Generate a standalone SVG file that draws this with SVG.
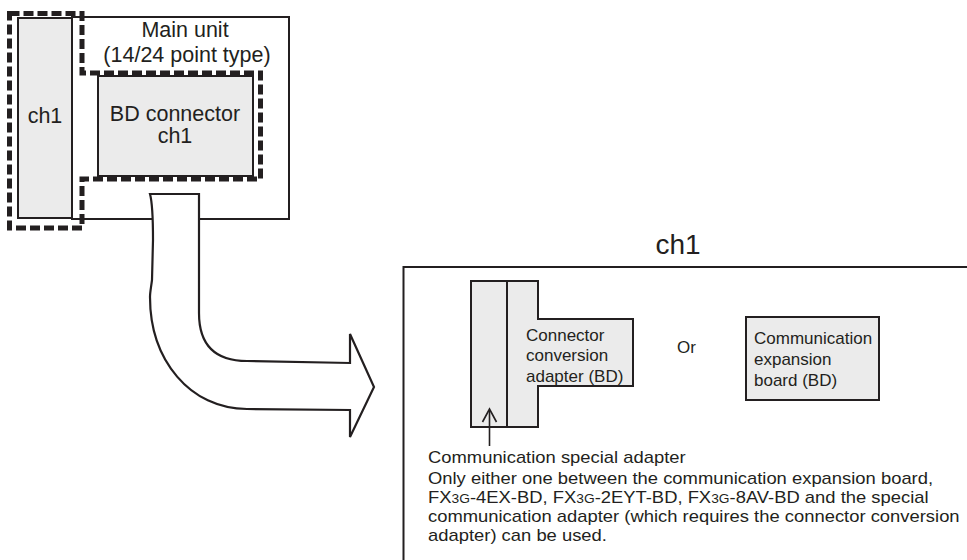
<svg xmlns="http://www.w3.org/2000/svg" width="967" height="560" viewBox="0 0 967 560">
<style>
text{font-family:"Liberation Sans",Arial,sans-serif;fill:#231f20}
.box{fill:#ebebeb;stroke:#231f20;stroke-width:2}
.line{fill:none;stroke:#231f20;stroke-width:2}
.dash{fill:none;stroke:#231f20;stroke-width:5;stroke-dasharray:10 4}
.t22{font-size:21.5px}
.t17{font-size:17px}
.note{font-size:16px}
.small{font-size:12px}
</style>
<rect width="967" height="560" fill="#fff"/>
<g id="main-unit">
<rect x="72" y="17" width="217" height="202" fill="#fff" stroke="#231f20" stroke-width="2"/>
<text class="t22" x="185" y="37" text-anchor="middle">Main unit</text>
<text class="t22" x="187" y="62" text-anchor="middle">(14/24 point type)</text>
</g>
<g id="ch1-side">
<rect class="box" x="18" y="18" width="54" height="200"/>
<text class="t22" x="45" y="123" text-anchor="middle">ch1</text>
</g>
<g id="bd-connector">
<rect class="box" x="98" y="76" width="155" height="100"/>
<text class="t22" x="175" y="121" text-anchor="middle">BD connector</text>
<text class="t22" x="175" y="143" text-anchor="middle">ch1</text>
</g>
<g id="ch1-outline">
<path class="dash" d="M9.5,13.5 H82 V73 H260.5 V179 H82 V228 H9.5 Z"/>
</g>
<g id="ch1-panel">
<path d="M403.5,560 V267 H967" fill="none" stroke="#231f20" stroke-width="2"/>
<text x="678" y="254" text-anchor="middle" font-size="28">ch1</text>
</g>
<g id="connector-conversion-adapter">
<path class="box" d="M471,281 H538 V319 H633 V386 H538 V427 H471 Z"/>
<line class="line" x1="507" y1="281" x2="507" y2="427"/>
<text class="t17" x="526" y="341">Connector</text>
<text class="t17" x="526" y="361">conversion</text>
<text class="t17" x="526" y="382">adapter (BD)</text>
</g>
<g id="or-label">
<text class="t17" x="677" y="353">Or</text>
</g>
<g id="communication-expansion-board">
<rect class="box" x="746" y="317" width="133" height="83"/>
<text class="t17" x="754" y="344">Communication</text>
<text class="t17" x="754" y="365">expansion</text>
<text class="t17" x="754" y="386">board (BD)</text>
</g>
<g id="notes" transform="translate(428,0) scale(1.15,1)">
<text class="note" x="0" y="463">Communication special adapter</text>
<text class="note" x="0" y="484">Only either one between the communication expansion board,</text>
<text class="note" x="0" y="503">FX<tspan class="small">3G</tspan>-4EX-BD, FX<tspan class="small">3G</tspan>-2EYT-BD, FX<tspan class="small">3G</tspan>-8AV-BD and the special</text>
<text class="note" x="0" y="522">communication adapter (which requires the connector conversion</text>
<text class="note" x="0" y="541">adapter) can be used.</text>
</g>
<g id="connectors">
<path d="M150,194 C153,205 153,220 153,240 L152,280 C151,288 150,292 150,297 C150,360 190,409 247,409 L350,410 L350,437 L374,387 L350,334 L350,363 L247,361 C215,361 199,345 199,313 L199,194 Z" fill="#fff" stroke="#231f20" stroke-width="2.2" stroke-linejoin="miter"/>
<line x1="489.5" y1="446" x2="489.5" y2="410" stroke="#231f20" stroke-width="1.6"/>
<path d="M482.5,422 L489.5,409 L496.5,422" fill="none" stroke="#231f20" stroke-width="1.6"/>
</g>
</svg>
